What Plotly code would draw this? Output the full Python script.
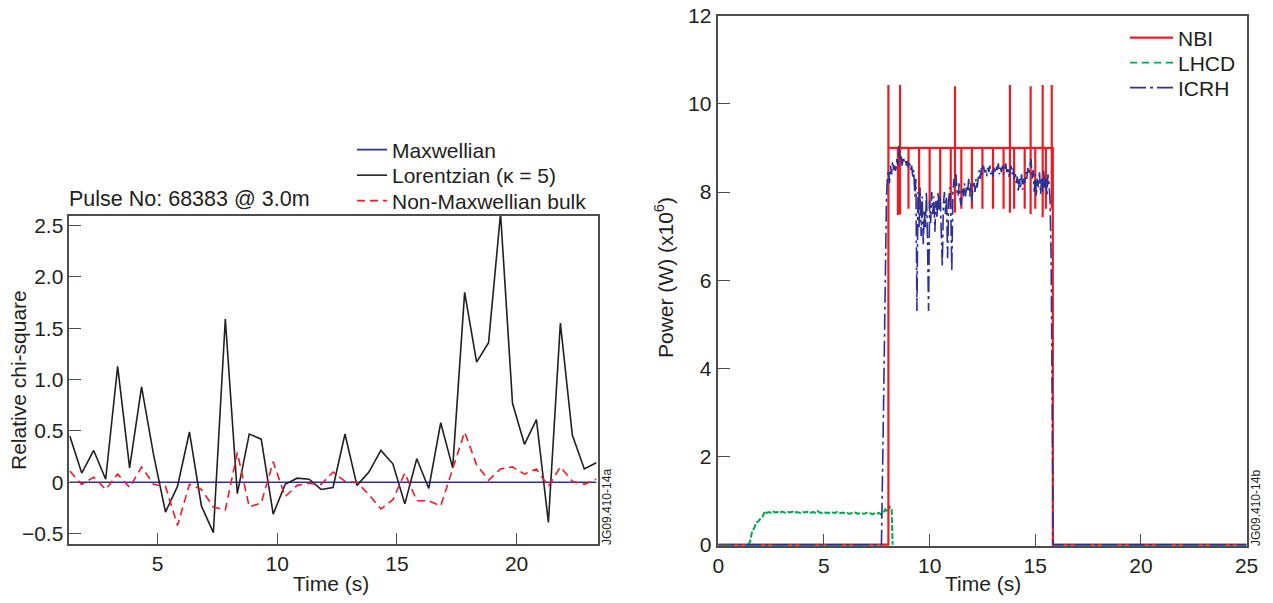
import plotly.graph_objects as go

# ---------------- Left panel data (relative chi-square) ----------------
times = [1.33, 1.83, 2.33, 2.83, 3.33, 3.83, 4.33, 4.83, 5.33, 5.83,
         6.33, 6.83, 7.33, 7.83, 8.33, 8.83, 9.33, 9.83, 10.33, 10.83,
         11.33, 11.83, 12.33, 12.83, 13.33, 13.83, 14.33, 14.83, 15.33, 15.83,
         16.33, 16.83, 17.33, 17.83, 18.33, 18.83, 19.33, 19.83, 20.33, 20.83,
         21.33, 21.83, 22.33, 22.83, 23.33]
maxwellian = [0.0, 0.0, 0.0, 0.0, 0.0, 0.0, 0.0, 0.0, 0.0, 0.0,
              0.0, 0.0, 0.0, 0.0, 0.0, 0.0, 0.0, 0.0, 0.0, 0.0,
              0.0, 0.0, 0.0, 0.0, 0.0, 0.0, 0.0, 0.0, 0.0, 0.0,
              0.0, 0.0, 0.0, 0.0, 0.0, 0.0, 0.0, 0.0, 0.0, 0.0,
              0.0, 0.0, 0.0, 0.0, 0.0]
lorentzian = [0.45, 0.09, 0.31, 0.03, 1.13, 0.14, 0.93, 0.27, -0.29, -0.04,
              0.49, -0.23, -0.49, 1.59, -0.11, 0.47, 0.42, -0.31, -0.02, 0.04,
              0.03, -0.07, -0.05, 0.47, -0.03, 0.10, 0.31, 0.18, -0.21, 0.23,
              -0.06, 0.58, 0.14, 1.85, 1.17, 1.36, 2.62, 0.77, 0.37, 0.61,
              -0.39, 1.55, 0.46, 0.13, 0.19]
non_maxwellian = [0.11, -0.02, 0.05, -0.07, 0.08, -0.05, 0.15, -0.02, -0.04, -0.42,
                  -0.02, -0.07, -0.24, -0.27, 0.29, -0.24, -0.20, 0.20, -0.14, -0.03,
                  -0.01, -0.02, 0.10, 0.01, 0.00, -0.12, -0.26, -0.17, 0.09, -0.18,
                  -0.18, -0.23, 0.13, 0.49, 0.17, 0.02, 0.13, 0.15, 0.08, 0.13,
                  -0.04, 0.15, 0.01, -0.02, 0.03]
left_yticks = [-0.5, 0, 0.5, 1.0, 1.5, 2.0, 2.5]
left_yticktext = ["\u22120.5", "0", "0.5", "1.0", "1.5", "2.0", "2.5"]
left_xticks = [5, 10, 15, 20]

# ---------------- Right panel data (heating power, MW) ----------------
nbi_on, nbi_off, nbi_level, t_end = 8.05, 15.83, 9.0, 25.0
nbi_spike_t = [8.05, 8.50, 8.60, 9.00, 9.50, 10.00, 10.50, 11.00, 11.20, 11.50,
               12.00, 12.50, 13.00, 13.50, 13.80, 14.00, 14.50, 14.78, 15.00,
               15.35, 15.50, 15.78]
nbi_spike_hi = [10.43, 9.0, 10.43, 9.0, 9.0, 9.0, 9.0, 9.0, 10.40, 9.0,
                9.0, 9.0, 9.0, 9.0, 10.43, 9.0, 9.0, 10.40, 9.0,
                10.43, 9.0, 10.43]
nbi_spike_lo = [7.50, 7.48, 7.49, 7.62, 7.62, 7.62, 7.62, 7.62, 7.53, 7.62,
                7.62, 7.62, 7.62, 7.62, 7.53, 7.62, 7.62, 7.50, 7.62,
                7.43, 7.62, 7.62]

lhcd_t0, lhcd_dt = 1.4, 0.1
lhcd_v = [0.00, 0.06, 0.30, 0.38, 0.50, 0.53, 0.60, 0.64, 0.76, 0.72,
          0.74, 0.72, 0.75, 0.73, 0.74, 0.72, 0.75, 0.73, 0.72, 0.74,
          0.73, 0.75, 0.72, 0.74, 0.73, 0.72, 0.74, 0.73, 0.75, 0.72,
          0.73, 0.74, 0.72, 0.76, 0.73, 0.72, 0.74, 0.72, 0.73, 0.71,
          0.73, 0.72, 0.74, 0.71, 0.72, 0.73, 0.71, 0.72, 0.70, 0.72,
          0.71, 0.73, 0.70, 0.72, 0.71, 0.70, 0.72, 0.70, 0.71, 0.69,
          0.71, 0.70, 0.72, 0.69, 0.71, 0.80, 0.74, 0.86, 0.83]
lhcd_off_t, lhcd_off_v = 8.25, 0.0

icrh_pre_t = [0.0, 7.72, 7.80, 7.88, 7.96]
icrh_pre_v = [0.0, 0.0, 2.5, 5.5, 7.9]
icrh_t0, icrh_dt = 8.0, 0.05
icrh_v = [8.30, 8.50, 8.20, 8.60, 8.40, 8.70, 8.50, 8.60, 8.45, 8.75,
          8.60, 9.05, 8.70, 8.85, 8.60, 8.80, 8.70, 8.75, 8.60, 8.70,
          8.55, 8.65, 8.50, 8.60, 8.35, 8.50, 7.90, 8.30, 5.30, 8.00,
          7.20, 8.10, 7.00, 7.90, 6.80, 7.60, 7.20, 8.00, 6.90, 5.30,
          7.80, 7.30, 8.00, 7.50, 7.90, 7.10, 7.80, 7.40, 8.00, 7.60,
          7.90, 7.30, 6.30, 7.70, 8.00, 7.50, 7.90, 6.50, 7.80, 8.10,
          7.60, 6.20, 8.00, 8.30, 8.10, 8.40, 8.00, 7.90, 8.20, 7.80,
          7.70, 8.10, 7.90, 8.20, 7.90, 8.15, 8.00, 8.30, 7.90, 8.20,
          7.80, 8.10, 8.25, 8.00, 8.30, 8.10, 8.40, 8.50, 8.30, 8.55,
          8.40, 8.60, 8.45, 8.50, 8.35, 8.55, 8.45, 8.60, 8.40, 8.50,
          8.35, 8.55, 8.45, 8.60, 8.50, 8.65, 8.40, 8.55, 8.45, 8.60,
          8.40, 8.50, 8.65, 8.45, 8.55, 8.35, 8.50, 8.60, 8.40, 8.55,
          8.30, 8.45, 8.20, 8.35, 8.00, 8.30, 8.10, 8.40, 8.05, 8.30,
          8.20, 8.45, 8.30, 8.55, 8.40, 8.60, 8.75, 8.30, 8.50, 8.00,
          8.40, 7.90, 8.30, 8.10, 8.45, 7.95, 8.30, 8.00, 8.50, 8.10,
          8.35, 7.90, 8.40, 8.20, 7.80, 6.50, 3.00, 0.00]
icrh_post_t = [25.0]
icrh_post_v = [0.0]

right_xticks = [0, 5, 10, 15, 20, 25]
right_yticks = [0, 2, 4, 6, 8, 10, 12]

# ---------------- build polylines from the lists ----------------
nbi_x = [0.0, nbi_on]
nbi_y = [0.0, 0.0]
for t, hi, lo in zip(nbi_spike_t, nbi_spike_hi, nbi_spike_lo):
    nbi_x += [t, t, t, t]
    nbi_y += [nbi_level, hi, lo, nbi_level]
nbi_x += [nbi_off, nbi_off, t_end]
nbi_y += [nbi_level, 0.0, 0.0]

lhcd_x = [round(lhcd_t0 + lhcd_dt * i, 3) for i in range(len(lhcd_v))] + [lhcd_off_t]
lhcd_y = lhcd_v + [lhcd_off_v]

icrh_x = icrh_pre_t + [round(icrh_t0 + icrh_dt * i, 3) for i in range(len(icrh_v))] + icrh_post_t
icrh_y = icrh_pre_v + icrh_v + icrh_post_v

# ---------------- styling ----------------
FONT = "Liberation Sans, Arial, Helvetica, sans-serif"
TXT = "#231f20"
FRAME = "#4d4d4d"
RED = "#ed1c24"
BLUE = "#2e3192"
GREEN = "#00a651"
W, H = 1273, 603


def px_x(p):
    return p / W


def px_y(p):
    return 1 - p / H


fig = go.Figure()
fig.add_trace(go.Scatter(x=times, y=maxwellian, mode="lines",
                         name="Maxwellian", line=dict(color=BLUE, width=1.6),
                         xaxis="x", yaxis="y", legend="legend"))
fig.add_trace(go.Scatter(x=times, y=lorentzian, mode="lines",
                         name="Lorentzian (\u03ba = 5)", line=dict(color=TXT, width=1.6),
                         xaxis="x", yaxis="y", legend="legend2"))
fig.add_trace(go.Scatter(x=times, y=non_maxwellian, mode="lines",
                         name="Non-Maxwellian bulk",
                         line=dict(color=RED, width=1.6, dash="8px,5px"),
                         xaxis="x", yaxis="y", legend="legend3"))

# right panel
fig.add_trace(go.Scatter(x=lhcd_x, y=lhcd_y, mode="lines", name="LHCD",
                         line=dict(color=GREEN, width=2.0, dash="6px,2px"),
                         xaxis="x2", yaxis="y2", showlegend=False))
fig.add_trace(go.Scatter(x=nbi_x, y=nbi_y, mode="lines", name="NBI",
                         line=dict(color=RED, width=2.2),
                         xaxis="x2", yaxis="y2", legend="legend4"))
fig.add_trace(go.Scatter(x=icrh_x, y=icrh_y, mode="lines", name="ICRH",
                         line=dict(color=BLUE, width=1.6, dash="16px,4px,3px,4px"),
                         xaxis="x2", yaxis="y2", legend="legend6"))
# legend entry for LHCD (same series, legend styling only)
fig.add_trace(go.Scatter(x=[None], y=[None], mode="lines", name="LHCD",
                         line=dict(color=GREEN, width=1.8, dash="7px,5px"),
                         xaxis="x2", yaxis="y2", legend="legend5"))

axis_common = dict(showgrid=False, zeroline=False, showline=True, linecolor=FRAME,
                   linewidth=1.5, mirror=True, ticks="inside", ticklen=12,
                   tickwidth=1.2, tickcolor=FRAME,
                   tickfont=dict(family=FONT, size=21, color=TXT))

leg_common = dict(xanchor="left", yanchor="middle", bgcolor="rgba(0,0,0,0)",
                  borderwidth=0, font=dict(family=FONT, size=21, color=TXT))

fig.update_layout(
    width=W, height=H,
    margin=dict(l=0, r=0, t=0, b=0, autoexpand=False),
    paper_bgcolor="white", plot_bgcolor="white",
    font=dict(family=FONT, size=21, color=TXT),
    xaxis=dict(domain=[px_x(69.3), px_x(597.7)], range=[1.31, 23.39],
               tickvals=left_xticks, anchor="y", **axis_common),
    yaxis=dict(domain=[px_y(544.3), px_y(216)], range=[-0.604, 2.594],
               tickvals=left_yticks, ticktext=left_yticktext, anchor="x",
               ticklabelstandoff=0, **axis_common),
    xaxis2=dict(domain=[px_x(718.3), px_x(1246.6)], range=[0, 25],
                tickvals=right_xticks, anchor="y2", **axis_common),
    yaxis2=dict(domain=[px_y(546), px_y(15.7)], range=[-0.03, 12],
                tickvals=right_yticks, anchor="x2", ticklabelstandoff=1,
                **axis_common),
    showlegend=True,
    legend=dict(x=px_x(352), y=px_y(150), **leg_common),
    legend2=dict(x=px_x(352), y=px_y(175.5), **leg_common),
    legend3=dict(x=px_x(352), y=px_y(201), **leg_common),
    legend4=dict(x=px_x(1125), y=px_y(38), itemwidth=43, **leg_common),
    legend5=dict(x=px_x(1125), y=px_y(63), itemwidth=43, **leg_common),
    legend6=dict(x=px_x(1125), y=px_y(88), itemwidth=43, **leg_common),
)

ann = [
    dict(text="Pulse No: 68383 @ 3.0m", x=px_x(67), y=px_y(199), xanchor="left",
         yanchor="middle", size=21.5, angle=0),
    dict(text="Time (s)", x=px_x(331), y=px_y(583), xanchor="center",
         yanchor="middle", size=21, angle=0),
    dict(text="Time (s)", x=px_x(983), y=px_y(583), xanchor="center",
         yanchor="middle", size=21, angle=0),
    dict(text="Relative chi-square", x=px_x(18), y=px_y(380), xanchor="center",
         yanchor="middle", size=21, angle=-90),
    dict(text="Power (W) (x10<sup>6</sup>)", x=px_x(664), y=px_y(278), xanchor="center",
         yanchor="middle", size=21, angle=-90),
    dict(text="JG09.410-14a", x=px_x(607), y=px_y(507), xanchor="center",
         yanchor="middle", size=12, angle=-90),
    dict(text="JG09.410-14b", x=px_x(1256), y=px_y(508), xanchor="center",
         yanchor="middle", size=12, angle=-90),
]
for a in ann:
    fig.add_annotation(text=a["text"], x=a["x"], y=a["y"], xref="paper", yref="paper",
                       xanchor=a["xanchor"], yanchor=a["yanchor"], showarrow=False,
                       textangle=a["angle"], font=dict(family=FONT, size=a["size"], color=TXT))

fig.write_html("out.html")
